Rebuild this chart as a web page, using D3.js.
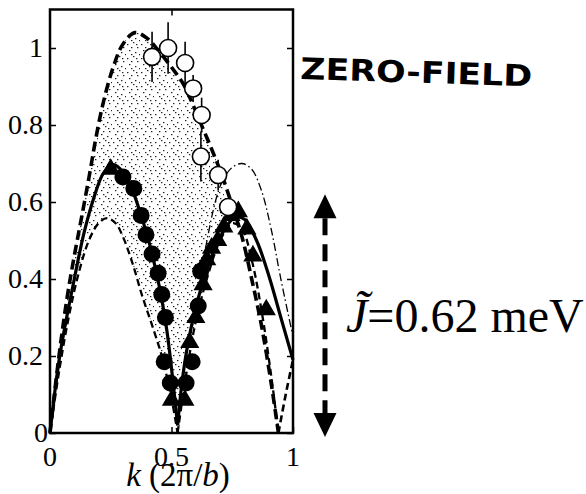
<!DOCTYPE html>
<html><head><meta charset="utf-8">
<script src="https://cdn.jsdelivr.net/npm/d3@7"></script>
<style>
body{margin:0;background:#fff}svg{display:block}
.tl{font-family:"Liberation Serif","Times New Roman",serif;font-size:28px;fill:#000}
</style>
</head><body>
<svg id="c" width="586" height="494"></svg>
<script>
// ---- data (k in 2π/b, E normalised) ----
const xTicks = [0, 0.5, 1];
const yTicks = [0, 0.2, 0.4, 0.6, 0.8, 1];
const upperDashed = [[0,0],[0.035,0.19],[0.07,0.35],[0.10,0.46],[0.13,0.56],[0.165,0.68],[0.19,0.77],[0.22,0.86],[0.26,0.95],[0.30,1.01],[0.35,1.04],[0.40,1.025],[0.45,0.99],[0.50,0.95],[0.55,0.905],[0.59,0.85],[0.63,0.79],[0.67,0.73],[0.71,0.665],[0.75,0.59],[0.79,0.51],[0.83,0.40],[0.87,0.28],[0.91,0.13],[0.94,0]];
const upperTail = [[0.94,0],[0.97,0.1],[1.0,0.19]];
const lowerLeft = [[0,0],[0.04,0.17],[0.08,0.31],[0.12,0.42],[0.16,0.50],[0.20,0.545],[0.235,0.558],[0.27,0.545],[0.30,0.51],[0.34,0.44],[0.38,0.355],[0.42,0.28],[0.46,0.20],[0.50,0.09],[0.525,0]];
const lowerRight = [[0.525,0],[0.56,0.15],[0.60,0.29],[0.65,0.41],[0.70,0.50],[0.75,0.545],[0.79,0.53],[0.83,0.45],[0.87,0.32],[0.91,0.15],[0.94,0]];
const solidLeft = [[0,0],[0.04,0.2],[0.10,0.40],[0.14,0.52],[0.18,0.61],[0.22,0.675],[0.26,0.697],[0.29,0.685],[0.33,0.645],[0.37,0.575],[0.41,0.49],[0.45,0.38],[0.48,0.27],[0.505,0.14],[0.525,0.02]];
const solidRight = [[0.525,0.02],[0.545,0.14],[0.57,0.24],[0.61,0.35],[0.66,0.45],[0.71,0.52],[0.76,0.56],[0.80,0.555],[0.85,0.50],[0.90,0.41],[0.95,0.30],[1.0,0.19]];
const dashDot = [[0.64,0.48],[0.68,0.60],[0.71,0.655],[0.75,0.69],[0.79,0.70],[0.83,0.685],[0.87,0.63],[0.91,0.53],[0.95,0.40],[1.0,0.25]];
const openK   = [0.42, 0.486, 0.556, 0.589, 0.624, 0.621, 0.692, 0.733];
const openE   = [0.977, 1.0, 0.961, 0.895, 0.826, 0.718, 0.670, 0.587];
const openErr = [0.065, 0.067, 0.055, 0.035, 0.045, 0.065, 0.04, 0.02];
const filledCircles = [[0.30,0.665],[0.345,0.635],[0.375,0.565],[0.395,0.515],[0.42,0.465],[0.445,0.415],[0.46,0.36],[0.475,0.3],[0.47,0.185],[0.585,0.185],[0.495,0.13],[0.56,0.13],[0.61,0.33],[0.62,0.42]];
const filledTriangles = [[0.25,0.685],[0.50,0.085],[0.555,0.085],[0.575,0.235],[0.60,0.30],[0.63,0.385],[0.645,0.45],[0.665,0.48],[0.69,0.50],[0.715,0.535],[0.745,0.565],[0.775,0.575],[0.81,0.53],[0.835,0.46],[0.89,0.32]];
const jValue = 0.62;

// ---- layout ----
const svg = d3.select("#c");
const x = d3.scaleLinear().domain([0,1]).range([50,293]);
const y = d3.scaleLinear().domain([0,1.1]).range([433,9.5]);

// stipple pattern
const defs = svg.append("defs");
const pat = defs.append("pattern").attr("id","stip").attr("patternUnits","userSpaceOnUse")
  .attr("width",14).attr("height",14);
[[1,2],[7,0],[11,5],[3,8],[9,10],[13,12],[5,12],[10,2],[5,5]].forEach(p=>{
  pat.append("rect").attr("x",p[0]).attr("y",p[1]).attr("width",1.4).attr("height",1.2).attr("fill","#222");
});

const line = d3.line().x(d=>x(d[0])).y(d=>y(d[1])).curve(d3.curveCatmullRom.alpha(0.5));

// shaded region between upper dashed and lower boundary up to their crossing
const kCross = 0.78;
const upPart = upperDashed.filter(d=>d[0]<=kCross).concat([[kCross,0.53]]);
const lowPart = lowerLeft.concat(lowerRight.slice(1)).filter(d=>d[0]<=kCross).concat([[kCross,0.535]]).reverse();
const shadePath = line(upPart) + "L" + line(lowPart).slice(1) + "Z";
svg.append("path").attr("d",shadePath).attr("fill","url(#stip)").attr("stroke","none");

// frame
svg.append("rect").attr("x",x(0)).attr("y",y(1.1)).attr("width",x(1)-x(0)).attr("height",y(0)-y(1.1))
  .attr("fill","none").attr("stroke","#000").attr("stroke-width",2.5);

// axes (ticks only; labels drawn below)
function styleAxis(g){
  g.select(".domain").remove();
  g.selectAll("line").attr("stroke","#000").attr("stroke-width",1.5);
  g.selectAll("text").remove();
}
const ya = svg.append("g").attr("transform",`translate(${x(0)},0)`);
ya.call(d3.axisLeft(y).tickValues(yTicks).tickSize(-6)); styleAxis(ya);
const yr = svg.append("g").attr("transform",`translate(${x(1)},0)`);
yr.call(d3.axisRight(y).tickValues(yTicks).tickSize(-6)); styleAxis(yr);
const xa = svg.append("g").attr("transform",`translate(0,${y(0)})`);
xa.call(d3.axisBottom(x).tickValues(xTicks).tickSize(-6)); styleAxis(xa);
const xt = svg.append("g").attr("transform",`translate(0,${y(1.1)})`);
xt.call(d3.axisTop(x).tickValues([0.5]).tickSize(-6)); styleAxis(xt);

// tick labels
svg.append("g").selectAll("text").data(yTicks).join("text").attr("class","tl")
  .attr("x",d=>d===0?x(0)-2:x(0)-7).attr("y",d=>y(d)).attr("dy","0.33em").attr("text-anchor","end")
  .text(d=>String(d));
svg.append("g").selectAll("text").data(xTicks).join("text").attr("class","tl")
  .attr("x",d=>x(d)).attr("y",y(0)+33).attr("text-anchor","middle")
  .text(d=>String(d));

// curves
svg.append("path").attr("d",line(lowerLeft)).attr("fill","none").attr("stroke","#000").attr("stroke-width",2.3).attr("stroke-dasharray","7,4");
svg.append("path").attr("d",line(lowerRight)).attr("fill","none").attr("stroke","#000").attr("stroke-width",2.3).attr("stroke-dasharray","7,4");
svg.append("path").attr("d",line(dashDot)).attr("fill","none").attr("stroke","#000").attr("stroke-width",1.3).attr("stroke-dasharray","8,3,1.5,3");
svg.append("path").attr("d",line(upperDashed)).attr("fill","none").attr("stroke","#000").attr("stroke-width",3.6).attr("stroke-dasharray","10,5");
svg.append("path").attr("d",line(upperTail)).attr("fill","none").attr("stroke","#000").attr("stroke-width",2.6).attr("stroke-dasharray","7,4");
svg.append("path").attr("d",line(solidLeft)).attr("fill","none").attr("stroke","#000").attr("stroke-width",3.2);
svg.append("path").attr("d",line(solidRight)).attr("fill","none").attr("stroke","#000").attr("stroke-width",3.2);

// filled symbols
svg.append("g").selectAll("circle").data(filledCircles).join("circle")
  .attr("cx",d=>x(d[0])).attr("cy",d=>y(d[1])).attr("r",8.5).attr("fill","#000");
const tri = d3.symbol().type(d3.symbolTriangle).size(160);
svg.append("g").selectAll("path").data(filledTriangles).join("path")
  .attr("transform",d=>`translate(${x(d[0])},${y(d[1])})`).attr("d",tri).attr("fill","#000");

// open circles with error bars
const openData = openK.map((k,i)=>({k, e:openE[i], err:openErr[i]}));
svg.append("g").selectAll("line").data(openData).join("line")
  .attr("x1",d=>x(d.k)).attr("x2",d=>x(d.k)).attr("y1",d=>y(d.e+d.err)).attr("y2",d=>y(d.e-d.err))
  .attr("stroke","#000").attr("stroke-width",1.6);
svg.append("g").selectAll("circle").data(openData).join("circle")
  .attr("cx",d=>x(d.k)).attr("cy",d=>y(d.e)).attr("r",8.5)
  .attr("fill","#fff").attr("stroke","#000").attr("stroke-width",1.6);

// x label
const xl = svg.append("text").attr("class","tl").attr("x",178).attr("y",486).attr("text-anchor","middle")
  .style("font-size","33px");
xl.append("tspan").attr("font-style","italic").text("k");
xl.append("tspan").text(" (2π/");
xl.append("tspan").attr("font-style","italic").text("b");
xl.append("tspan").text(")");

// handwritten note
svg.append("text").attr("x",300).attr("y",79).attr("transform","rotate(1.8,300,79)")
  .style("font-family","DejaVu Sans, sans-serif").style("font-weight","bold").style("font-size","30px")
  .attr("textLength",232).attr("lengthAdjust","spacingAndGlyphs")
  .attr("fill","#000").text("ZERO-FIELD");

// double arrow for J
const ax = 325, yTop = y(jValue), yBot = y(0)+4;
svg.append("line").attr("x1",ax).attr("x2",ax).attr("y1",yTop+24).attr("y2",yBot-24)
  .attr("stroke","#000").attr("stroke-width",5).attr("stroke-dasharray","17,9");
svg.append("path").attr("d",`M${ax},${yTop} L${ax-11.5},${yTop+24} L${ax+11.5},${yTop+24} Z`).attr("fill","#000");
svg.append("path").attr("d",`M${ax},${yBot} L${ax-11.5},${yBot-24} L${ax+11.5},${yBot-24} Z`).attr("fill","#000");

const jt = svg.append("text").attr("class","tl").attr("x",346).attr("y",332).style("font-size","48px");
jt.append("tspan").attr("font-style","italic").text("J\u0303");
jt.append("tspan").text("=0.62 meV");
</script>
</body></html>
